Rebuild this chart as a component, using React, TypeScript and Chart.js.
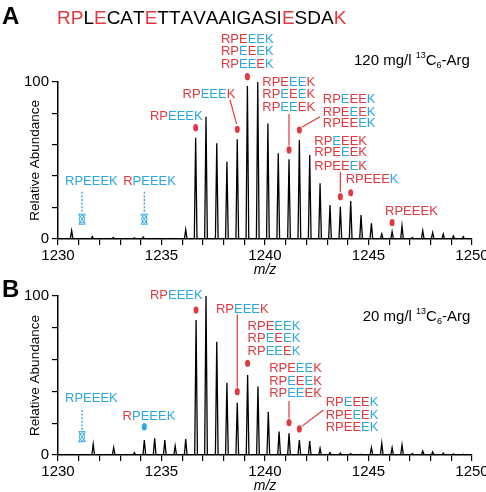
import React, { useEffect, useRef } from "react";
import { Chart, registerables } from "chart.js";

Chart.register(...registerables);

const FF = "'Liberation Sans', Arial, Helvetica, sans-serif";
const RED = "#e2383e";
const BLUE = "#2aa8df";
const COLS: Record<string, string> = { r: RED, b: BLUE, k: "#000" };

// ---- data ----
const X_MIN = 1230;
const X_MAX = 1250;
const X_TICK_LABELS = [1230, 1235, 1240, 1245, 1250];
const Y_TICK_LABELS = [0, 100];

const PEPTIDE = "RPLECATETTAVAAIGASIESDAK";
const PEPTIDE_COLORS = "rrkrkkkrkkkkkkkkkkkrkkkr";

const A_MZ = [1230.66, 1231.66, 1232.67, 1233.69, 1234.12, 1236.17, 1236.65, 1237.15, 1237.67, 1238.16, 1238.66, 1239.15, 1239.65, 1240.14, 1240.64, 1241.16, 1241.66, 1242.16, 1242.66, 1243.14, 1243.64, 1244.14, 1244.64, 1245.14, 1245.64, 1246.14, 1246.62, 1247.12, 1247.62, 1248.1, 1248.61, 1249.1, 1249.58];
const A_INT = [5.3, 1.5, 1.0, 0.7, 1.2, 6.0, 64.4, 77.7, 60.8, 49.2, 63.4, 97.3, 100, 73.5, 54.5, 50.7, 62.9, 53.4, 35.4, 21.6, 20.5, 24.2, 15.3, 10.0, 3.2, 4.7, 8.3, 1.0, 5.3, 4.0, 3.2, 2.0, 1.5];

const B_MZ = [1231.7, 1232.69, 1233.69, 1234.17, 1234.67, 1235.16, 1235.66, 1236.17, 1236.67, 1237.15, 1237.67, 1238.16, 1238.66, 1239.16, 1239.66, 1240.16, 1240.68, 1241.16, 1241.66, 1242.16, 1242.66, 1243.14, 1243.64, 1244.14, 1244.64, 1245.14, 1245.64, 1246.14, 1246.62, 1247.12, 1247.62, 1248.1, 1248.61, 1249.1, 1249.58];
const B_INT = [6.9, 4.6, 1.5, 9.4, 10.5, 9.4, 5.7, 10.0, 84.9, 100, 71.3, 45.5, 32.9, 50.3, 43.0, 27.2, 14.7, 13.6, 9.4, 8.8, 4.2, 1.5, 1.2, 0.8, 0.5, 4.6, 7.4, 4.6, 6.3, 1.0, 2.5, 2.0, 1.2, 0.7, 0.5];

const LABEL_TEXT = "RPEEEK";
const CONC_A = "120 mg/l ";
const CONC_B = "20 mg/l ";

type Ann = {
  mz: number;
  mark: "red" | "blue" | "cross";
  markY: number;
  lx: number;
  ly: number[];
  pats: string[];
  line?: [number, number, number, number];
  dashed?: boolean;
};

const ANN_A: Ann[] = [
  { mz: 1231.16, mark: "cross", markY: 12.6, lx: 1230.34, ly: [37.5], pats: ["bbbbbb"], line: [1231.16, 30, 1231.16, 16.5], dashed: true },
  { mz: 1234.17, mark: "cross", markY: 12.6, lx: 1233.15, ly: [37.5], pats: ["rbbbbb"], line: [1234.17, 30, 1234.17, 16.5], dashed: true },
  { mz: 1236.65, mark: "red", markY: 70.8, lx: 1234.44, ly: [78.8], pats: ["rrbbbb"] },
  { mz: 1238.66, mark: "red", markY: 69.7, lx: 1236.02, ly: [92.8], pats: ["rrbbbr"], line: [1238.31, 88.4, 1238.63, 73] },
  { mz: 1239.15, mark: "red", markY: 103.2, lx: 1237.87, ly: [127.8, 119.7, 111.9], pats: ["rrrbbb", "rrbrbb", "rrbbrb"] },
  { mz: 1241.16, mark: "red", markY: 56.6, lx: 1239.87, ly: [100, 92.6, 84.6], pats: ["rrrbbr", "rrbrbr", "rrbbrr"], line: [1241.16, 79.5, 1241.16, 59.5] },
  { mz: 1241.66, mark: "red", markY: 69.3, lx: 1242.79, ly: [89.4, 81.4, 73.9], pats: ["rrbrrb", "rrrbrb", "rrrrbb"], line: [1242.66, 77.7, 1241.78, 71] },
  { mz: 1243.64, mark: "red", markY: 26.9, lx: 1242.38, ly: [62.9, 55.5, 47.0], pats: ["rrbrrr", "rrrbrr", "rrrrbr"], line: [1243.64, 42.6, 1243.64, 29.8] },
  { mz: 1244.14, mark: "red", markY: 29.4, lx: 1243.9, ly: [38.6], pats: ["rrrrrb"] },
  { mz: 1246.14, mark: "red", markY: 10.4, lx: 1245.8, ly: [18.4], pats: ["rrrrrr"] },
];

const ANN_B: Ann[] = [
  { mz: 1231.16, mark: "cross", markY: 11.5, lx: 1230.34, ly: [36.3], pats: ["bbbbbb"], line: [1231.16, 28.3, 1231.16, 15.5], dashed: true },
  { mz: 1234.17, mark: "blue", markY: 17.8, lx: 1233.12, ly: [25.2], pats: ["rbbbbb"] },
  { mz: 1236.67, mark: "red", markY: 91.2, lx: 1234.44, ly: [101], pats: ["rrbbbb"] },
  { mz: 1238.66, mark: "red", markY: 39.8, lx: 1237.63, ly: [92.3], pats: ["rrbbbr"], line: [1238.66, 88.5, 1238.66, 42.5] },
  { mz: 1239.16, mark: "red", markY: 57.7, lx: 1239.16, ly: [81.8, 73.8, 66.0], pats: ["rrrbbb", "rrbrbb", "rrbbrb"] },
  { mz: 1241.16, mark: "red", markY: 20.3, lx: 1240.2, ly: [54.9, 47.2, 39.4], pats: ["rrrbbr", "rrbrbr", "rrbbrr"], line: [1241.16, 34, 1241.16, 23] },
  { mz: 1241.66, mark: "red", markY: 16.4, lx: 1242.93, ly: [33.5, 25.8, 17.8], pats: ["rrbrrb", "rrrbrb", "rrrrbb"], line: [1242.82, 28.3, 1241.78, 18] },
];

type PanelCfg = {
  mz: number[];
  inten: number[];
  ann: Ann[];
  canvasTop: number;
  canvasHeight: number;
  areaTop: number;
  areaBottom: number;
  letter: string;
  letterBaseline: number;
  conc: string;
  concX: number;
  concBaseline: number;
  showPeptide: boolean;
  mzBaseline: number;
};

const PANELS: PanelCfg[] = [
  {
    mz: A_MZ, inten: A_INT, ann: ANN_A, canvasTop: 0, canvasHeight: 285,
    areaTop: 81.7, areaBottom: 239, letter: "A", letterBaseline: 23.5,
    conc: CONC_A, concX: 354, concBaseline: 65, showPeptide: true, mzBaseline: 274,
  },
  {
    mz: B_MZ, inten: B_INT, ann: ANN_B, canvasTop: 270, canvasHeight: 222,
    areaTop: 26, areaBottom: 185, letter: "B", letterBaseline: 26.5,
    conc: CONC_B, concX: 362.7, concBaseline: 51, showPeptide: false, mzBaseline: 220,
  },
];

const HALF_W = 0.065;

function profile(mz: number[], inten: number[]) {
  const pts: { x: number; y: number }[] = [{ x: X_MIN + 0.2, y: 0 }];
  mz.forEach((m, i) => {
    pts.push({ x: m - HALF_W, y: 0 });
    pts.push({ x: m, y: inten[i] });
    pts.push({ x: m + HALF_W, y: 0 });
  });
  pts.push({ x: X_MAX - 0.1, y: 0 });
  return pts;
}

function drawColored(ctx: CanvasRenderingContext2D, text: string, pat: string, x: number, cy: number, size: number) {
  ctx.font = `${size}px ${FF}`;
  ctx.textBaseline = "alphabetic";
  ctx.textAlign = "left";
  const base = cy + size * 0.716 / 2;
  let cx = x;
  for (let i = 0; i < text.length; i++) {
    ctx.fillStyle = COLS[pat[i]] || "#000";
    ctx.fillText(text[i], cx, base);
    cx += ctx.measureText(text[i]).width;
  }
}

function makePlugin(cfg: PanelCfg) {
  return {
    id: "annot" + cfg.letter,
    afterDraw(chart: any) {
      const ctx: CanvasRenderingContext2D = chart.ctx;
      const xs = chart.scales.x;
      const ys = chart.scales.y;
      const area = chart.chartArea;
      ctx.save();
      // panel letter
      ctx.fillStyle = "#000";
      ctx.font = `bold 24px ${FF}`;
      ctx.textAlign = "left";
      ctx.textBaseline = "alphabetic";
      ctx.fillText(cfg.letter, 2, cfg.letterBaseline);
      // peptide sequence
      if (cfg.showPeptide) {
        ctx.font = `19px ${FF}`;
        let px = 57;
        for (let i = 0; i < PEPTIDE.length; i++) {
          ctx.fillStyle = COLS[PEPTIDE_COLORS[i]];
          ctx.fillText(PEPTIDE[i], px, 24);
          px += ctx.measureText(PEPTIDE[i]).width;
        }
      }
      // concentration text
      ctx.fillStyle = "#000";
      let cx = cfg.concX;
      const b = cfg.concBaseline;
      ctx.font = `15px ${FF}`;
      ctx.fillText(cfg.conc, cx, b);
      cx += ctx.measureText(cfg.conc).width;
      ctx.font = `9px ${FF}`;
      ctx.fillText("13", cx, b - 7);
      cx += ctx.measureText("13").width;
      ctx.font = `15px ${FF}`;
      ctx.fillText("C", cx, b);
      cx += ctx.measureText("C").width;
      ctx.font = `9px ${FF}`;
      ctx.fillText("6", cx, b + 3);
      cx += ctx.measureText("6").width;
      ctx.font = `15px ${FF}`;
      ctx.fillText("-Arg", cx, b);
      // axis titles
      ctx.font = `italic 14px ${FF}`;
      ctx.textAlign = "center";
      ctx.fillText("m/z", (area.left + area.right) / 2, cfg.mzBaseline);
      ctx.save();
      ctx.translate(39, (area.top + area.bottom) / 2);
      ctx.rotate(-Math.PI / 2);
      ctx.font = `13.5px ${FF}`;
      ctx.fillText("Relative Abundance", 0, 0);
      ctx.restore();
      // annotations
      cfg.ann.forEach((a) => {
        const mx = xs.getPixelForValue(a.mz);
        const my = ys.getPixelForValue(a.markY);
        if (a.line) {
          ctx.beginPath();
          ctx.strokeStyle = a.dashed ? BLUE : RED;
          ctx.lineWidth = a.dashed ? 1.3 : 1.2;
          ctx.setLineDash(a.dashed ? [2, 1.6] : []);
          ctx.moveTo(xs.getPixelForValue(a.line[0]), ys.getPixelForValue(a.line[1]));
          ctx.lineTo(xs.getPixelForValue(a.line[2]), ys.getPixelForValue(a.line[3]));
          ctx.stroke();
          ctx.setLineDash([]);
        }
        if (a.mark === "cross") {
          ctx.strokeStyle = BLUE;
          ctx.lineWidth = 1;
          ctx.beginPath();
          ctx.ellipse(mx, my, 2.6, 3.8, 0, 0, Math.PI * 2);
          ctx.stroke();
          ctx.beginPath();
          ctx.moveTo(mx - 3.4, my - 5);
          ctx.lineTo(mx + 3.4, my + 5);
          ctx.moveTo(mx + 3.4, my - 5);
          ctx.lineTo(mx - 3.4, my + 5);
          ctx.moveTo(mx - 3.4, my - 5);
          ctx.lineTo(mx + 3.4, my - 5);
          ctx.moveTo(mx - 3.4, my + 5);
          ctx.lineTo(mx + 3.4, my + 5);
          ctx.stroke();
        } else {
          ctx.fillStyle = a.mark === "red" ? RED : BLUE;
          ctx.beginPath();
          ctx.ellipse(mx, my, 2.5, 3.6, 0, 0, Math.PI * 2);
          ctx.fill();
        }
        const lx = xs.getPixelForValue(a.lx);
        a.pats.forEach((p, i) => {
          drawColored(ctx, LABEL_TEXT, p, lx, ys.getPixelForValue(a.ly[i]), 13);
        });
      });
      ctx.restore();
    },
  };
}

function Panel({ cfg }: { cfg: PanelCfg }) {
  const ref = useRef<HTMLCanvasElement>(null);
  useEffect(() => {
    if (!ref.current) return;
    const xH = cfg.canvasHeight - cfg.areaBottom;
    const tickFont = { family: FF, size: 15 };
    const chart = new Chart(ref.current, {
      type: "line",
      data: {
        datasets: [
          {
            data: profile(cfg.mz, cfg.inten),
            borderColor: "#000",
            borderWidth: 1.3,
            pointRadius: 0,
            tension: 0,
            fill: false,
          },
        ],
      },
      options: {
        animation: false,
        responsive: false,
        devicePixelRatio: 1,
        layout: { padding: { left: 0, right: 14, top: cfg.areaTop, bottom: 0 } },
        plugins: { legend: { display: false }, tooltip: { enabled: false } },
        scales: {
          x: {
            type: "linear",
            min: X_MIN,
            max: X_MAX,
            ticks: {
              stepSize: 1,
              autoSkip: false,
              maxRotation: 0,
              color: "#000",
              font: tickFont,
              padding: 2,
              callback: (v: any) => (X_TICK_LABELS.includes(Number(v)) ? String(v) : ""),
            },
            grid: { display: true, drawOnChartArea: false, drawTicks: true, tickLength: 6, color: "#000", lineWidth: 1.2 },
            border: { display: true, color: "#000", width: 1.5 },
            afterFit: (s: any) => {
              s.height = xH;
              s.paddingLeft = 0;
              s.paddingRight = 0;
            },
          },
          y: {
            type: "linear",
            min: 0,
            max: 100,
            ticks: {
              stepSize: 20,
              color: "#000",
              font: tickFont,
              padding: 3,
              callback: (v: any) => (Y_TICK_LABELS.includes(Number(v)) ? String(v) : ""),
            },
            grid: { display: true, drawOnChartArea: false, drawTicks: true, tickLength: 6, color: "#000", lineWidth: 1.2 },
            border: { display: true, color: "#000", width: 1.5 },
            afterFit: (s: any) => {
              s.width = 58;
              s.paddingTop = 0;
              s.paddingBottom = 0;
            },
          },
        },
      },
      plugins: [makePlugin(cfg)],
    } as any);
    return () => chart.destroy();
  }, [cfg]);
  return (
    <canvas
      ref={ref}
      width={486}
      height={cfg.canvasHeight}
      style={{ position: "absolute", left: 0, top: cfg.canvasTop, width: 486, height: cfg.canvasHeight }}
    />
  );
}

export default function App() {
  return (
    <div style={{ position: "fixed", left: 0, top: 0, width: 486, height: 492, background: "#fff", overflow: "hidden" }}>
      {PANELS.map((p) => (
        <Panel key={p.letter} cfg={p} />
      ))}
    </div>
  );
}
